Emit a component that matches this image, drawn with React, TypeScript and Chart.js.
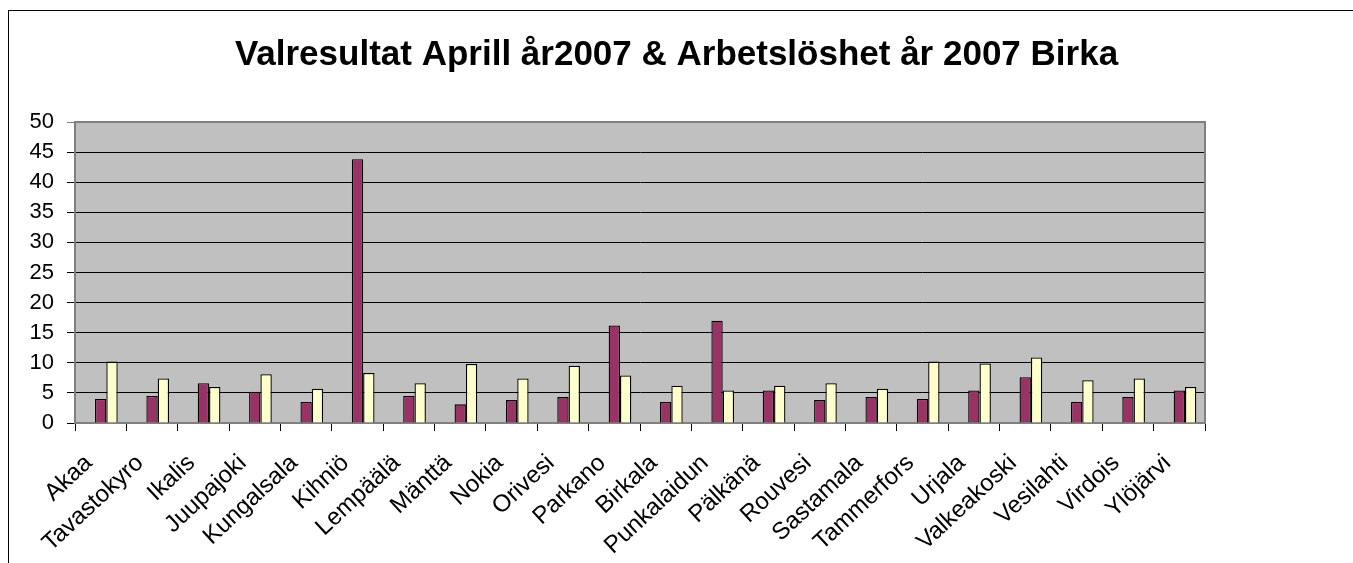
import React, { useEffect, useRef } from 'react';
import { Chart, registerables } from 'chart.js';

Chart.register(...registerables);

const FONT = '"Liberation Sans", Arial, sans-serif';

const titleText = 'Valresultat Aprill år2007 & Arbetslöshet år 2007 Birka';

const categories = [
  'Akaa', 'Tavastokyro', 'Ikalis', 'Juupajoki', 'Kungalsala', 'Kihniö',
  'Lempäälä', 'Mänttä', 'Nokia', 'Orivesi', 'Parkano', 'Birkala',
  'Punkalaidun', 'Pälkänä', 'Rouvesi', 'Sastamala', 'Tammerfors', 'Urjala',
  'Valkeakoski', 'Vesilahti', 'Virdois', 'Ylöjärvi',
];

// An empty first series (the source chart reserves a slot for it in each cluster)
const emptySeries = [
  null, null, null, null, null, null, null, null, null, null, null,
  null, null, null, null, null, null, null, null, null, null, null,
];

const valresultat = [
  4.0, 4.5, 6.6, 5.2, 3.5, 43.8, 4.5, 3.1, 3.8, 4.3, 16.2,
  3.5, 17.0, 5.4, 3.8, 4.3, 4.0, 5.4, 7.6, 3.5, 4.3, 5.4,
];

const arbetsloshet = [
  10.2, 7.4, 6.0, 8.1, 5.7, 8.3, 6.6, 9.8, 7.4, 9.5, 7.9,
  6.2, 5.4, 6.2, 6.6, 5.7, 10.2, 9.9, 10.9, 7.1, 7.4, 6.0,
];

const yMin = 0;
const yMax = 50;
const yStep = 5;

const framePlugin = {
  id: 'framePlugin',
  beforeDraw(chart: any) {
    const { ctx, chartArea: a } = chart;
    ctx.save();
    ctx.fillStyle = '#ffffff';
    ctx.fillRect(0, 0, chart.width, chart.height);
    ctx.strokeStyle = '#000000';
    ctx.lineWidth = 1;
    ctx.strokeRect(8.5, 10.5, chart.width + 20, chart.height + 20);
    ctx.fillStyle = '#C0C0C0';
    ctx.fillRect(a.left, a.top, a.right - a.left, a.bottom - a.top);
    ctx.restore();
  },
  afterDraw(chart: any) {
    const { ctx, chartArea: a } = chart;
    ctx.save();
    ctx.strokeStyle = '#808080';
    ctx.lineWidth = 2;
    ctx.beginPath();
    ctx.moveTo(a.left, a.top);
    ctx.lineTo(a.right, a.top);
    ctx.lineTo(a.right, a.bottom);
    ctx.stroke();
    ctx.restore();
  },
};

export default function App() {
  const ref = useRef<HTMLCanvasElement | null>(null);

  useEffect(() => {
    document.body.style.margin = '0';
    document.body.style.overflow = 'hidden';
    const canvas = ref.current;
    if (!canvas) return;
    Chart.defaults.font.family = FONT;
    const chart = new Chart(canvas, {
      type: 'bar',
      data: {
        labels: categories,
        datasets: [
          {
            label: '',
            data: emptySeries as any,
            backgroundColor: '#000000',
          },
          {
            label: 'Valresultat',
            data: valresultat,
            backgroundColor: '#993366',
            borderColor: '#000000',
            borderWidth: 1.3,
          },
          {
            label: 'Arbetslöshet',
            data: arbetsloshet,
            backgroundColor: '#FFFFCC',
            borderColor: '#000000',
            borderWidth: 1.3,
          },
        ],
      },
      options: {
        responsive: false,
        animation: false,
        devicePixelRatio: 1,
        datasets: {
          bar: {
            categoryPercentage: 0.662,
            barPercentage: 1.0,
          },
        },
        layout: { padding: { left: 0, right: 0, top: 0, bottom: 0 } },
        plugins: {
          legend: { display: false },
          tooltip: { enabled: false },
          title: {
            display: true,
            text: titleText,
            color: '#000000',
            font: { size: 35, weight: 'bold', family: FONT },
            padding: { top: 34, bottom: 46 },
          },
        },
        scales: {
          x: {
            offset: true,
            grid: {
              offset: true,
              drawOnChartArea: false,
              drawTicks: true,
              tickLength: 8,
              color: '#000000',
              lineWidth: 1,
            },
            border: { color: '#808080', width: 2 },
            ticks: {
              autoSkip: false,
              minRotation: 43,
              maxRotation: 43,
              padding: 18,
              labelOffset: -12,
              color: '#000000',
              font: { size: 24, family: FONT },
            },
            afterFit(scale: any) {
              scale.height = 140;
            },
          },
          y: {
            min: yMin,
            max: yMax,
            ticks: {
              stepSize: yStep,
              autoSkip: false,
              padding: 13,
              color: '#000000',
              font: { size: 22, family: FONT },
            },
            grid: {
              color: (c: any) => (c.tick && c.tick.value === yMax ? '#808080' : '#000000'),
              lineWidth: 1,
              tickLength: 8,
            },
            border: { color: '#808080', width: 2 },
            afterFit(scale: any) {
              scale.width = 75;
            },
          },
          ySpacer: {
            type: 'linear',
            position: 'right',
            display: true,
            grid: { display: false, drawOnChartArea: false },
            border: { display: false },
            ticks: { display: false },
            afterFit(scale: any) {
              scale.width = 148;
            },
          },
        },
      },
      plugins: [framePlugin],
    });
    return () => chart.destroy();
  }, []);

  return (
    <canvas
      ref={ref}
      width={1353}
      height={563}
      style={{ display: 'block', width: '1353px', height: '563px' }}
    />
  );
}
